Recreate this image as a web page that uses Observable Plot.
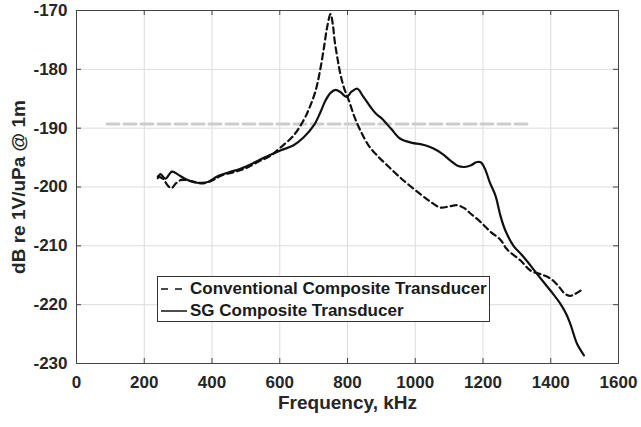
<!DOCTYPE html>
<html>
<head>
<meta charset="utf-8">
<script src="https://cdn.jsdelivr.net/npm/d3@7"></script>
<script src="https://cdn.jsdelivr.net/npm/@observablehq/plot@0.6"></script>
<style>
  body { margin: 0; background: #fff; }
  #wrap { position: relative; width: 641px; height: 427px; font-family: "Liberation Sans", Arial, sans-serif; }
  #legend { position: absolute; left: 157px; top: 276px; width: 331px; height: 44px; border: 1px solid #333; background: #fff; box-sizing: content-box; }
  #legend .row { position: absolute; left: 0; height: 22px; display: flex; align-items: center; font-size: 17px; font-weight: bold; color: #1a1a1a; white-space: nowrap; }
  #legend svg { margin-left: 2px; margin-right: 3px; }
</style>
</head>
<body>
<div id="wrap"></div>
<script>
// Tick values
const xTicks = [0, 200, 400, 600, 800, 1000, 1200, 1400, 1600];
const yTicks = [-230, -220, -210, -200, -190, -180, -170];

// Conventional Composite Transducer (dashed)
const convFreq = [240, 255, 270, 280, 295, 310, 340, 370, 400, 430, 470, 500, 540, 570, 602, 640, 671, 690, 706, 718, 730, 740, 750, 757, 762, 770, 779, 790, 804, 820, 838, 863, 890, 917, 946, 976, 1015, 1045, 1075, 1100, 1124, 1145, 1163, 1190, 1222, 1252, 1271, 1311, 1340, 1379, 1400, 1419, 1443, 1458, 1468, 1488];
const convDb = [-198.2, -198.6, -199.8, -200.2, -199.3, -198.8, -199.0, -199.4, -198.9, -198.0, -197.4, -196.8, -195.6, -194.8, -193.3, -191.3, -188.6, -186.2, -183.6, -180.5, -176.5, -172.8, -170.6, -172.5, -175.1, -178.0, -180.8, -183.2, -185.3, -188.0, -190.4, -193.0, -194.8, -196.3, -197.9, -199.4, -201.2, -202.5, -203.5, -203.3, -203.1, -203.6, -204.5, -205.8, -207.6, -209.0, -210.6, -212.5, -214.2, -215.0, -215.6, -216.6, -218.2, -218.5, -218.3, -217.6];

// SG Composite Transducer (solid)
const sgFreq = [240, 248, 262, 282, 300, 320, 346, 370, 390, 415, 450, 484, 520, 558, 602, 641, 670, 701, 720, 735, 750, 765, 780, 797, 812, 829, 845, 868, 885, 902, 930, 956, 991, 1015, 1040, 1065, 1085, 1104, 1125, 1145, 1165, 1180, 1193, 1205, 1220, 1237, 1252, 1266, 1290, 1320, 1360, 1399, 1429, 1445, 1458, 1478, 1498];
const sgDb = [-198.5, -197.8, -198.6, -197.4, -197.9, -198.6, -199.2, -199.3, -199.1, -198.2, -197.5, -196.9, -196.0, -194.9, -193.8, -192.9, -191.6, -189.5, -187.3, -185.3, -184.0, -183.5, -183.9, -184.7, -183.8, -183.3, -184.5, -186.4, -187.6, -188.4, -190.2, -191.8, -192.5, -192.7, -193.1, -193.8, -194.6, -195.5, -196.4, -196.6, -196.3, -195.8, -195.8, -196.8, -199.2, -201.5, -205.0, -207.4, -210.0, -211.9, -214.8, -217.6, -219.9, -221.5, -223.3, -226.7, -228.6];

// Reference level (gray dashed)
const refFreq = [90, 1340];
const refDb = [-189.3, -189.3];

const seriesNames = ["Conventional Composite Transducer", "SG Composite Transducer"];
const xLabel = "Frequency, kHz";
const yLabel = "dB re 1V/uPa @ 1m";

const conv = convFreq.map((f, i) => ({f, v: convDb[i]}));
const sg = sgFreq.map((f, i) => ({f, v: sgDb[i]}));
const ref = refFreq.map((f, i) => ({f, v: refDb[i]}));

const fmt = d => String(d);

const chart = Plot.plot({
  width: 641,
  height: 427,
  marginLeft: 76,
  marginRight: 23,
  marginTop: 10,
  marginBottom: 64,
  style: {fontFamily: "'Liberation Sans', Arial, sans-serif", fontSize: "17px", fontWeight: "bold", color: "#262626", background: "#fff"},
  x: {domain: [0, 1600]},
  y: {domain: [-230, -170]},
  marks: [
    Plot.gridX(xTicks, {stroke: "#dcdcdc", strokeOpacity: 1}),
    Plot.gridY(yTicks, {stroke: "#dcdcdc", strokeOpacity: 1}),
    Plot.line(ref, {x: "f", y: "v", stroke: "#cccccc", strokeWidth: 3, strokeDasharray: "12,5"}),
    Plot.line(conv, {x: "f", y: "v", stroke: "#111", strokeWidth: 2.2, strokeDasharray: "6,4", curve: "catmull-rom"}),
    Plot.line(sg, {x: "f", y: "v", stroke: "#111", strokeWidth: 2.2, curve: "catmull-rom"}),
    Plot.tickX(xTicks, {x: d => d, insetTop: 348, stroke: "#444"}),
    Plot.tickX(xTicks, {x: d => d, insetBottom: 348, stroke: "#444"}),
    Plot.tickY(yTicks, {y: d => d, insetLeft: 537, stroke: "#444"}),
    Plot.tickY(yTicks, {y: d => d, insetRight: 537, stroke: "#444"}),
    Plot.frame({stroke: "#444"}),
    Plot.axisX(xTicks, {tickSize: 0, tickPadding: 12, label: null, tickFormat: fmt}),
    Plot.axisY(yTicks, {tickSize: 0, tickPadding: 9, label: null, tickFormat: fmt}),
    Plot.text([xLabel], {text: d => d, frameAnchor: "bottom", dy: 39, textAnchor: "middle", lineAnchor: "middle", fontSize: 19, fontWeight: "bold"}),
    Plot.text([yLabel], {text: d => d, frameAnchor: "left", dx: -58, rotate: -90, textAnchor: "middle", lineAnchor: "middle", fontSize: 19, fontWeight: "bold"})
  ]
});

const wrap = document.getElementById("wrap");
wrap.appendChild(chart);

// Legend
const legend = document.createElement("div");
legend.id = "legend";
const styles = [{dash: "7,7"}, {dash: null}];
seriesNames.forEach((name, i) => {
  const row = document.createElement("div");
  row.className = "row";
  row.style.top = (1 + i * 22) + "px";
  const s = d3.create("svg").attr("width", 27).attr("height", 22);
  const ln = s.append("line").attr("x1", 1).attr("x2", 27).attr("y1", 11).attr("y2", 11)
    .attr("stroke", "#111").attr("stroke-width", 1.5);
  if (styles[i].dash) ln.attr("stroke-dasharray", styles[i].dash);
  row.appendChild(s.node());
  const t = document.createElement("span");
  t.textContent = name;
  row.appendChild(t);
  legend.appendChild(row);
});
wrap.appendChild(legend);
</script>
</body>
</html>
